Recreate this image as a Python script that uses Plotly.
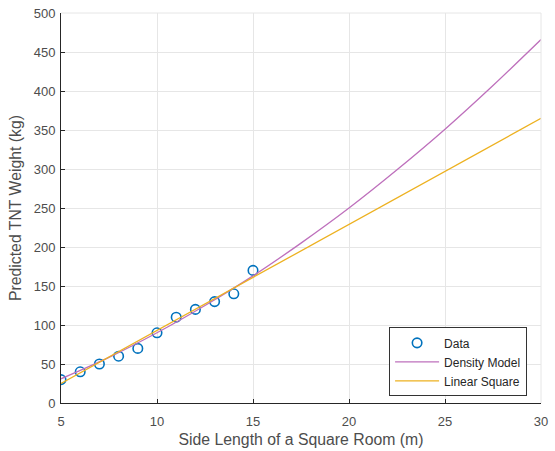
import plotly.graph_objects as go

# Data
data_x = [5, 6, 7, 8, 9, 10, 11, 12, 13, 14, 15]
data_y = [30, 40, 50, 60, 70, 90, 110, 120, 130, 140, 170]

density_x = [5, 7.5, 10, 12.5, 15, 17.5, 20, 22.5, 25, 27.5, 30]
density_y = [31, 58.5, 90, 125, 163, 205, 250, 299, 351, 407, 466]

linear_x = [5, 30]
linear_y = [25, 365]

x_ticks = [5, 10, 15, 20, 25, 30]
y_ticks = [0, 50, 100, 150, 200, 250, 300, 350, 400, 450, 500]

font_family = "Liberation Sans, Arial, sans-serif"
text_col = "#4d4d4d"

fig = go.Figure()
fig.add_trace(go.Scatter(
    x=data_x, y=data_y, mode="markers", name="Data",
    marker=dict(symbol="circle-open", size=9.5, color="#0072BD", line=dict(width=1.6, color="#0072BD")),
))
fig.add_trace(go.Scatter(
    x=density_x, y=density_y, mode="lines", name="Density Model",
    line=dict(color="#BE70BC", width=1.3, shape="spline", smoothing=0.8),
))
fig.add_trace(go.Scatter(
    x=linear_x, y=linear_y, mode="lines", name="Linear Square",
    line=dict(color="#EDB120", width=1.3),
))

axis_common = dict(
    showgrid=True, gridcolor="#e6e6e6", gridwidth=1,
    zeroline=False, showline=True, linecolor="#262626", linewidth=1,
    ticks="inside", ticklen=4, tickcolor="#262626",
    tickfont=dict(size=13, color=text_col, family=font_family),
    mirror=False, automargin=False,
)

fig.update_layout(
    width=555, height=451,
    margin=dict(l=61, r=14, t=13, b=48),
    paper_bgcolor="white", plot_bgcolor="white",
    font=dict(family=font_family, color=text_col),
    showlegend=True,
    legend=dict(
        x=0.971, xanchor="right", y=0.017, yanchor="bottom",
        bgcolor="white", bordercolor="#333333", borderwidth=1,
        font=dict(size=12, color="#262626", family=font_family),
        tracegroupgap=0, itemwidth=44,
    ),
    xaxis=dict(
        range=[5, 30], tickvals=x_ticks, ticklabelstandoff=6,
        title=dict(text="Side Length of a Square Room (m)", font=dict(size=15.8, color=text_col), standoff=6),
        **axis_common,
    ),
    yaxis=dict(
        range=[0, 500], tickvals=y_ticks, ticklabelstandoff=2,
        title=dict(text="Predicted TNT Weight (kg)", font=dict(size=15.8, color=text_col), standoff=8),
        **axis_common,
    ),
    shapes=[
        dict(type="line", xref="paper", yref="paper", x0=0, x1=1, y0=1, y1=1,
             line=dict(color="#e6e6e6", width=1)),
        dict(type="line", xref="paper", yref="paper", x0=1, x1=1, y0=0, y1=1,
             line=dict(color="#e6e6e6", width=1)),
    ],
)

fig.write_html("out.html", config={"displayModeBar": False},
               post_script="document.body.style.margin='0';")
